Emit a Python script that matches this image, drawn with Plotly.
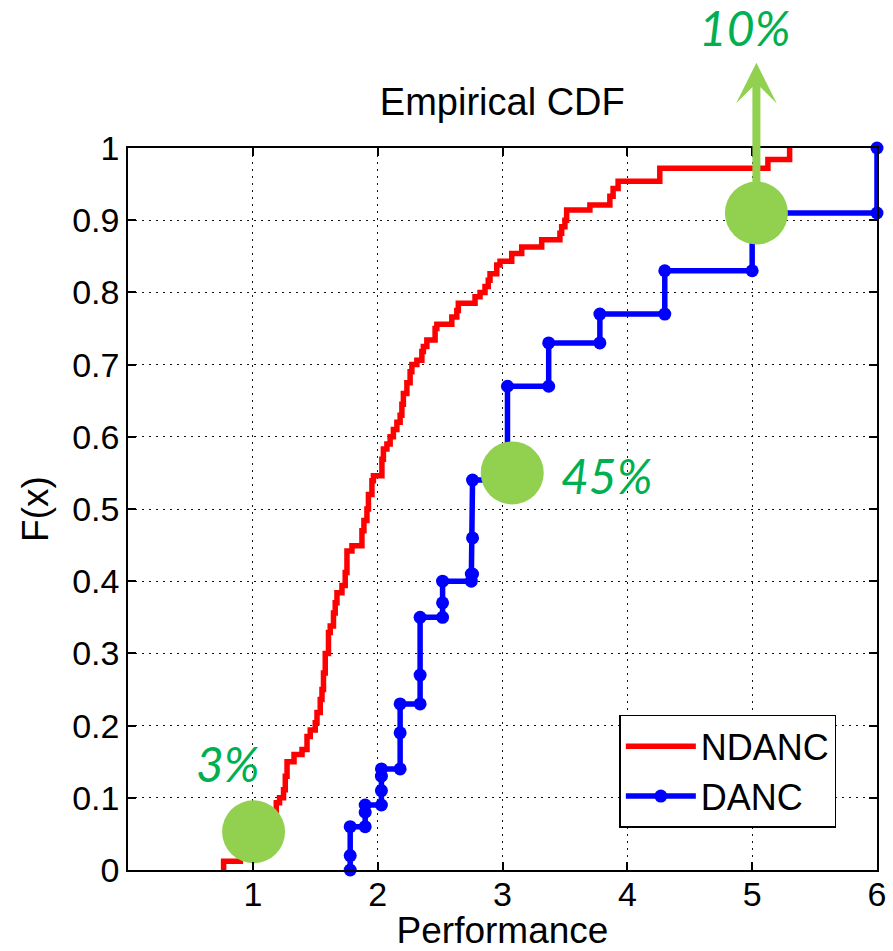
import plotly.graph_objects as go

# ---- data -------------------------------------------------------------
# NDANC empirical CDF: sample positions and CDF level after each jump
ndanc_x = [0.766, 0.766, 0.90, 0.98, 1.05, 1.10, 1.16, 1.188, 1.214, 1.246,
           1.26, 1.274, 1.33, 1.394, 1.434, 1.46, 1.50, 1.514, 1.54, 1.554,
           1.566, 1.58, 1.606, 1.62, 1.646, 1.66, 1.674, 1.714, 1.74, 1.754,
           1.794, 1.874, 1.89, 1.914, 1.926, 1.954, 1.966, 2.034, 2.046, 2.074,
           2.10, 2.126, 2.154, 2.18, 2.194, 2.206, 2.234, 2.26, 2.274, 2.314,
           2.354, 2.366, 2.394, 2.46, 2.474, 2.594, 2.634, 2.646, 2.78, 2.82,
           2.86, 2.886, 2.90, 2.954, 2.98, 3.074, 3.154, 3.314, 3.46, 3.474,
           3.50, 3.514, 3.70, 3.86, 3.886, 3.926, 4.26, 5.126, 5.30]
ndanc_f = [0.0, 0.012, 0.02, 0.03, 0.045, 0.06, 0.075, 0.093, 0.10, 0.111,
           0.13, 0.15, 0.16, 0.167, 0.185, 0.194, 0.204, 0.218, 0.236, 0.25,
           0.273, 0.30, 0.329, 0.338, 0.356, 0.37, 0.384, 0.394, 0.412, 0.442,
           0.449, 0.47, 0.484, 0.50, 0.52, 0.539, 0.546, 0.569, 0.583, 0.59,
           0.60, 0.61, 0.62, 0.63, 0.645, 0.66, 0.675, 0.69, 0.70, 0.706,
           0.718, 0.725, 0.734, 0.75, 0.756, 0.766, 0.775, 0.785, 0.794, 0.80,
           0.808, 0.817, 0.826, 0.838, 0.843, 0.854, 0.863, 0.873, 0.882, 0.891,
           0.90, 0.914, 0.921, 0.933, 0.944, 0.954, 0.972, 0.984, 1.0]

# DANC empirical CDF: sample positions and CDF level after each jump
danc_x = [1.78, 1.78, 1.90, 1.90, 2.03, 2.03, 2.03, 2.18, 2.18, 2.34, 2.34,
          2.52, 2.52, 2.75, 2.76, 2.76, 3.04, 3.37, 3.78, 4.30, 5.00, 6.00]
danc_f = [0.02, 0.06, 0.08, 0.09, 0.11, 0.13, 0.14, 0.19, 0.23, 0.27, 0.35,
          0.37, 0.40, 0.41, 0.46, 0.54, 0.67, 0.73, 0.77, 0.83, 0.91, 1.00]

# highlighted points and their labels
mark_x = [1.006, 3.078, 5.034]
mark_f = [0.053, 0.55, 0.91]
mark_text = ["3%", "45%", "10%"]
text_x = [0.80, 3.83, 4.94]
text_f = [0.147, 0.547, 1.167]
arrow_tip_f = 1.118

x_ticks = [1, 2, 3, 4, 5, 6]
y_ticks = [i / 10 for i in range(11)]
y_tick_text = ["0"] + [f"{v:.1f}" for v in y_ticks[1:-1]] + ["1"]

X_RANGE = [0, 6]
Y_RANGE = [0, 1]


def to_paper(xv, fv):
    """Map data coordinates to paper coordinates of the single subplot."""
    return ((xv - X_RANGE[0]) / (X_RANGE[1] - X_RANGE[0]),
            (fv - Y_RANGE[0]) / (Y_RANGE[1] - Y_RANGE[0]))


# ---- build stair vertices for DANC (markers on every corner) ------------
sx, sy = [danc_x[0]], [0.0]
for xv, fv in zip(danc_x, danc_f):
    if xv != sx[-1]:
        sx.append(xv)
        sy.append(sy[-1])
    sx.append(xv)
    sy.append(fv)

FONT = "Liberation Sans, Arial, sans-serif"
GREEN_DOT = "#92D050"
GREEN_TXT = "#00B050"

fig = go.Figure()
fig.add_trace(go.Scatter(
    x=ndanc_x, y=ndanc_f, mode="lines", name="NDANC",
    line=dict(color="#FF0000", width=5.5, shape="hv"),
))
fig.add_trace(go.Scatter(
    x=sx, y=sy, mode="lines+markers", name="DANC", cliponaxis=False,
    line=dict(color="#0000FF", width=5.5),
    marker=dict(color="#0000FF", size=13),
))
fig.add_trace(go.Scatter(
    x=mark_x, y=mark_f, mode="markers", showlegend=False, cliponaxis=False,
    marker=dict(color=GREEN_DOT, size=63, line=dict(width=0)),
    hoverinfo="skip",
))

annotations = []
for t, xv, fv in zip(mark_text, text_x, text_f):
    px_, py_ = to_paper(xv, fv)
    annotations.append(dict(
        x=px_, y=py_, xref="paper", yref="paper", text=t, showarrow=False,
        font=dict(family="Lato, sans-serif", size=48, color=GREEN_TXT,
                  style="italic", weight=400),
        xanchor="center", yanchor="middle",
    ))
# arrow rising from the top-right highlighted point
annotations.append(dict(
    x=mark_x[2], y=arrow_tip_f, xref="x", yref="y",
    ax=mark_x[2], ay=mark_f[2], axref="x", ayref="y",
    showarrow=True, arrowhead=3, arrowwidth=8, arrowsize=0.85,
    arrowcolor=GREEN_DOT, text="",
))

axis_common = dict(
    showline=True, linecolor="#000000", linewidth=1.5, mirror="ticks",
    ticks="inside", ticklen=8, tickcolor="#000000", tickwidth=1.5,
    showgrid=True, gridcolor="#111111", gridwidth=1.3, griddash="2px,5px",
    zeroline=False, automargin=False,
    tickfont=dict(family=FONT, size=34, color="#000000"),
)

fig.update_layout(
    width=893, height=951,
    margin=dict(l=127.5, r=16, t=148, b=81),
    paper_bgcolor="white", plot_bgcolor="white",
    title=dict(text="Empirical CDF", x=0.5625, xanchor="center",
               y=1 - 102 / 951, yanchor="middle", yref="container",
               font=dict(family=FONT, size=38, color="#000000")),
    xaxis=dict(range=X_RANGE, tickvals=x_ticks, ticktext=[str(v) for v in x_ticks],
               ticklabelstandoff=-7,
               title=dict(text="Performance", standoff=10,
                          font=dict(family=FONT, size=37, color="#000000")),
               **axis_common),
    yaxis=dict(range=Y_RANGE, tickvals=y_ticks, ticktext=y_tick_text,
               title=dict(text="F(x)", standoff=12,
                          font=dict(family=FONT, size=37, color="#000000")),
               **axis_common),
    legend=dict(x=0.656, y=0.2148, xanchor="left", yanchor="top",
                bgcolor="white", bordercolor="#000000", borderwidth=1.5,
                font=dict(family=FONT, size=36, color="#000000"),
                itemwidth=70, tracegroupgap=0),
    annotations=annotations,
    showlegend=True,
)

fig.write_html("out.html")
